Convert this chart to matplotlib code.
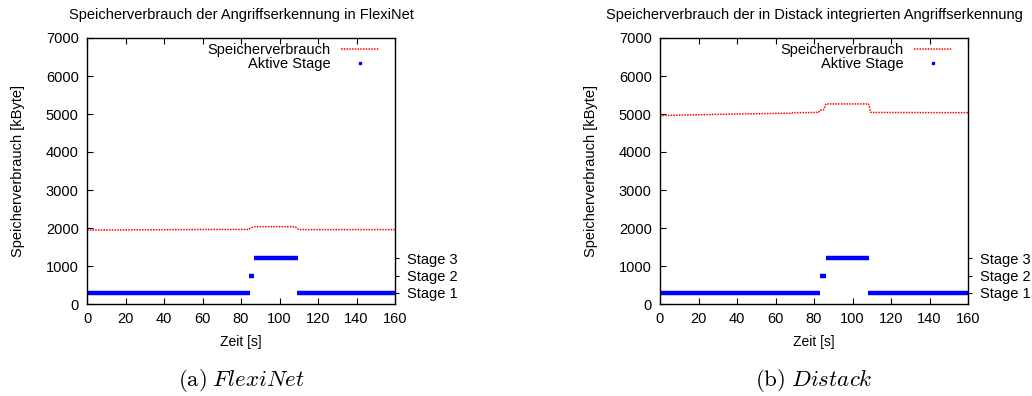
import matplotlib
matplotlib.use('Agg')
from matplotlib import pyplot as plt
from matplotlib.lines import Line2D

plt.rcParams['font.family'] = ['Liberation Sans', 'DejaVu Sans']
plt.rcParams['mathtext.fontset'] = 'cm'

# Speicherverbrauch (Zeit [s], kByte)
flexi_t = [0, 20, 40, 60, 84, 85, 87, 108, 110, 130, 160]
flexi_mem = [1945, 1950, 1955, 1960, 1962, 2000, 2035, 2035, 1958, 1958, 1958]

distack_t = [0, 1.5, 20, 40, 60, 68.5, 69, 82.5, 83, 85, 86.2, 108.3, 109.5, 160]
distack_mem = [4920, 4960, 4980, 5000, 5015, 5020, 5035, 5040, 5100, 5110, 5265, 5265, 5040, 5035]

# Aktive Stage: (start, ende, stage)
stage_val = {1: 300, 2: 750, 3: 1200}
flexi_stages = [(0, 84.8, 1), (84.4, 86.8, 2), (86.5, 109.7, 3), (109.3, 160, 1)]
distack_stages = [(0, 83.0, 1), (83.2, 86.3, 2), (86.0, 108.5, 3), (108.2, 160, 1)]

titles = ['Speicherverbrauch der Angriffserkennung in FlexiNet',
          'Speicherverbrauch der in Distack integrierten Angriffserkennung']
captions = [r'$\mathrm{(a)}\;\mathit{FlexiNet}$', r'$\mathrm{(b)}\;\mathit{Distack}$']

fig = plt.figure(figsize=(10.32, 3.96), dpi=100)
lefts = [87, 660]
data = [(flexi_t, flexi_mem, flexi_stages), (distack_t, distack_mem, distack_stages)]

for i in range(2):
    t, mem, stages = data[i]
    ax = fig.add_axes([lefts[i] / 1032, (396 - 304) / 396, 308 / 1032, 266 / 396])
    ax.plot(t, mem, color='red', lw=1.1, ls=(0, (1, 0.8)))
    for s0, s1, st in stages:
        ax.plot([s0, s1], [stage_val[st], stage_val[st]], color='blue', lw=3.2,
                solid_capstyle='butt')
    ax.set_xlim(0, 160)
    ax.set_ylim(0, 7000)
    ax.set_xticks(range(0, 161, 20))
    ax.set_yticks(range(0, 7001, 1000))
    ax.tick_params(direction='in', length=4, width=0.8, labelsize=10.5,
                   top=True, right=True, pad=6)
    for sp in ax.spines.values():
        sp.set_linewidth(1.0)
    ax.set_xlabel('Zeit [s]', fontsize=10)
    ax.xaxis.set_label_coords(0.5, -(335 - 304) / 266)
    ax.set_ylabel('Speicherverbrauch [kByte]', fontsize=10.5)
    ax.yaxis.set_label_coords(-62 / 308, 0.5)

    ax2 = ax.twinx()
    ax2.set_ylim(0, 7000)
    ax2.set_yticks([stage_val[1], stage_val[2], stage_val[3]])
    ax2.set_yticklabels(['Stage 1', 'Stage 2', 'Stage 3'])
    ax2.tick_params(direction='out', length=3, width=0.8, labelsize=10.5, pad=6)
    for sp in ax2.spines.values():
        sp.set_visible(False)

    handles = [Line2D([], [], color='red', lw=1.1, ls=(0, (1, 0.8))),
               Line2D([], [], color='blue', ls='none', marker='s', ms=2)]
    ax.legend(handles, ['Speicherverbrauch', 'Aktive Stage'], loc='upper right',
              frameon=False, markerfirst=False, fontsize=10.5, handlelength=2.6,
              labelspacing=0.0, borderaxespad=0.2, handletextpad=0.7,
              bbox_to_anchor=(0.975, 1.015))

    cx = (lefts[i] + 154) / 1032
    fig.text(cx, 1 - 15 / 396, titles[i], ha='center', va='center', fontsize=10.5)
    fig.text(cx, 1 - 381 / 396, captions[i], ha='center', va='center', fontsize=16.5)

fig.savefig('out.png', dpi=100)
